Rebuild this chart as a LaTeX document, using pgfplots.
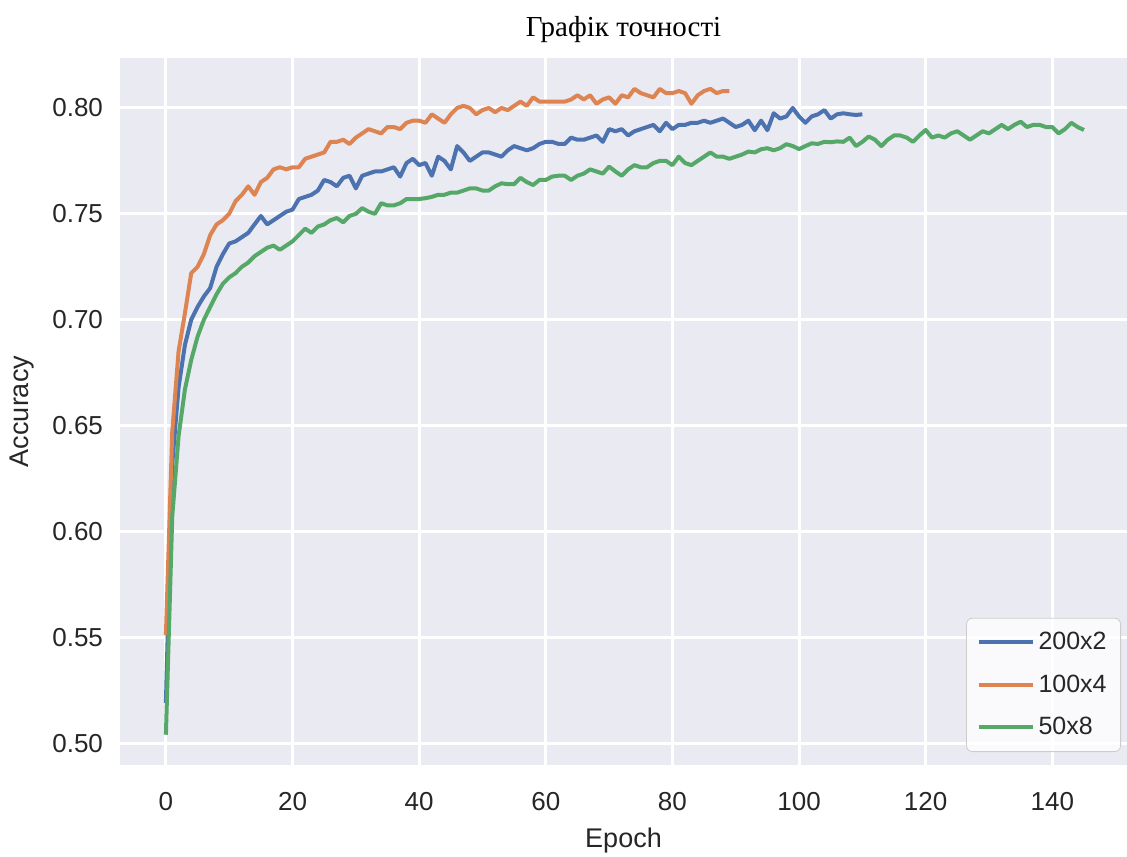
\documentclass[border=0pt]{standalone}
\usepackage{pgfplots}
\pgfplotsset{compat=1.18}
\usepackage{fontspec}
\setmainfont{Liberation Sans}
\newfontfamily\titlefont{Liberation Serif}
\definecolor{sbblue}{HTML}{4C72B0}
\definecolor{sborange}{HTML}{DD8452}
\definecolor{sbgreen}{HTML}{55A868}
\definecolor{sbbg}{HTML}{EAEAF2}
\definecolor{sblabel}{HTML}{262626}
\begin{document}
\begin{tikzpicture}
\begin{axis}[
  scale only axis,
  width=503.5pt, height=353.5pt,
  xmin=-7.25, xmax=151.8,
  ymin=0.4897, ymax=0.8236,
  axis background/.style={fill=sbbg},
  axis line style={draw=none},
  major tick length=0pt,
  grid=major,
  major grid style={white, line width=1.5pt},
  xtick={0,20,40,60,80,100,120,140},
  ytick={0.50,0.55,0.60,0.65,0.70,0.75,0.80},
  /pgf/number format/assume math mode=true,
  yticklabel style={/pgf/number format/fixed, /pgf/number format/fixed zerofill, /pgf/number format/precision=2, font=\fontsize{13}{15}\selectfont, text=sblabel, xshift=-5pt},
  xticklabel style={font=\fontsize{13}{15}\selectfont, text=sblabel, yshift=-10pt},
  scaled y ticks=false,
  xlabel={Epoch}, ylabel={Accuracy},
  xlabel style={at={(axis description cs:0.5,0)}, anchor=center, yshift=-38pt, font=\fontsize{13.5}{15}\selectfont, text=sblabel},
  ylabel style={at={(axis description cs:-0.0973,0.5)}, anchor=center, font=\fontsize{13.5}{15}\selectfont, text=sblabel},
  title={\titlefont Графік точності},
  title style={at={(axis description cs:0.5,1)}, anchor=center, yshift=8pt, font=\fontsize{14.5}{16}\selectfont},
  legend style={at={(1,0)}, anchor=south east, xshift=-3pt, yshift=6.5pt, draw=black!20, fill=white, fill opacity=0.8, text opacity=1, rounded corners=3pt, font=\fontsize{12.5}{14}\selectfont, text=sblabel, row sep=7pt, inner xsep=5pt, inner ysep=5pt},
  legend cell align=left,
  legend image code/.code={\draw[#1, line width=2pt] (0pt,0pt) -- (27pt,0pt);},
  every axis plot/.append style={line width=2pt, line join=round},
  clip=true,
]
\addplot[sbblue] table {
0 0.519
1 0.632
2 0.668
3 0.688
4 0.700
5 0.706
6 0.711
7 0.715
8 0.725
9 0.731
10 0.736
11 0.737
12 0.739
13 0.741
14 0.745
15 0.749
16 0.745
17 0.747
18 0.749
19 0.751
20 0.752
21 0.757
22 0.758
23 0.759
24 0.761
25 0.766
26 0.765
27 0.763
28 0.767
29 0.768
30 0.762
31 0.768
32 0.769
33 0.770
34 0.770
35 0.771
36 0.772
37 0.7676
38 0.774
39 0.776
40 0.773
41 0.774
42 0.768
43 0.777
44 0.775
45 0.771
46 0.782
47 0.779
48 0.775
49 0.777
50 0.779
51 0.779
52 0.778
53 0.777
54 0.780
55 0.782
56 0.781
57 0.780
58 0.781
59 0.783
60 0.784
61 0.784
62 0.783
63 0.783
64 0.786
65 0.785
66 0.785
67 0.786
68 0.787
69 0.784
70 0.790
71 0.789
72 0.790
73 0.787
74 0.789
75 0.790
76 0.791
77 0.792
78 0.789
79 0.793
80 0.790
81 0.792
82 0.792
83 0.793
84 0.793
85 0.794
86 0.793
87 0.794
88 0.795
89 0.793
90 0.791
91 0.792
92 0.794
93 0.7895
94 0.794
95 0.7895
96 0.7975
97 0.795
98 0.796
99 0.800
100 0.796
101 0.793
102 0.796
103 0.797
104 0.799
105 0.795
106 0.797
107 0.7975
108 0.797
109 0.7967
110 0.797
};
\addlegendentry{200x2}
\addplot[sborange] table {
0 0.551
1 0.647
2 0.685
3 0.703
4 0.722
5 0.725
6 0.731
7 0.740
8 0.745
9 0.747
10 0.750
11 0.756
12 0.759
13 0.763
14 0.759
15 0.765
16 0.767
17 0.771
18 0.772
19 0.771
20 0.772
21 0.772
22 0.776
23 0.777
24 0.778
25 0.779
26 0.784
27 0.784
28 0.785
29 0.783
30 0.786
31 0.788
32 0.790
33 0.789
34 0.788
35 0.791
36 0.791
37 0.790
38 0.793
39 0.794
40 0.794
41 0.793
42 0.797
43 0.795
44 0.793
45 0.797
46 0.800
47 0.801
48 0.800
49 0.797
50 0.799
51 0.800
52 0.798
53 0.800
54 0.799
55 0.801
56 0.803
57 0.801
58 0.805
59 0.803
60 0.803
61 0.803
62 0.803
63 0.803
64 0.804
65 0.806
66 0.804
67 0.806
68 0.802
69 0.804
70 0.805
71 0.802
72 0.806
73 0.805
74 0.809
75 0.807
76 0.806
77 0.805
78 0.809
79 0.807
80 0.807
81 0.808
82 0.807
83 0.802
84 0.806
85 0.808
86 0.809
87 0.807
88 0.808
89 0.808
};
\addlegendentry{100x4}
\addplot[sbgreen] table {
0 0.504
1 0.607
2 0.645
3 0.667
4 0.681
5 0.692
6 0.700
7 0.706
8 0.712
9 0.717
10 0.720
11 0.722
12 0.725
13 0.727
14 0.730
15 0.732
16 0.734
17 0.735
18 0.733
19 0.735
20 0.737
21 0.740
22 0.743
23 0.741
24 0.744
25 0.745
26 0.747
27 0.748
28 0.746
29 0.749
30 0.750
31 0.7527
32 0.751
33 0.750
34 0.755
35 0.754
36 0.754
37 0.755
38 0.757
39 0.757
40 0.757
41 0.7574
42 0.758
43 0.759
44 0.759
45 0.760
46 0.760
47 0.761
48 0.762
49 0.762
50 0.761
51 0.761
52 0.763
53 0.7644
54 0.764
55 0.764
56 0.767
57 0.765
58 0.7636
59 0.766
60 0.766
61 0.7676
62 0.768
63 0.768
64 0.766
65 0.768
66 0.769
67 0.771
68 0.770
69 0.769
70 0.7723
71 0.770
72 0.768
73 0.771
74 0.773
75 0.772
76 0.772
77 0.774
78 0.775
79 0.775
80 0.773
81 0.777
82 0.774
83 0.773
84 0.775
85 0.777
86 0.779
87 0.777
88 0.777
89 0.776
90 0.777
91 0.778
92 0.7794
93 0.779
94 0.7805
95 0.781
96 0.780
97 0.781
98 0.7829
99 0.782
100 0.7806
101 0.782
102 0.7833
103 0.783
104 0.784
105 0.7838
106 0.7842
107 0.784
108 0.786
109 0.782
110 0.784
111 0.7865
112 0.785
113 0.782
114 0.785
115 0.787
116 0.787
117 0.786
118 0.784
119 0.787
120 0.7896
121 0.786
122 0.787
123 0.786
124 0.788
125 0.789
126 0.787
127 0.785
128 0.787
129 0.789
130 0.788
131 0.790
132 0.792
133 0.790
134 0.792
135 0.7935
136 0.791
137 0.792
138 0.792
139 0.791
140 0.791
141 0.788
142 0.790
143 0.793
144 0.791
145 0.7896
};
\addlegendentry{50x8}
\end{axis}
\pgfresetboundingbox
\path[use as bounding box] (-60pt,-45.5pt) rectangle (503.5pt,382.5pt);
\end{tikzpicture}
\end{document}
